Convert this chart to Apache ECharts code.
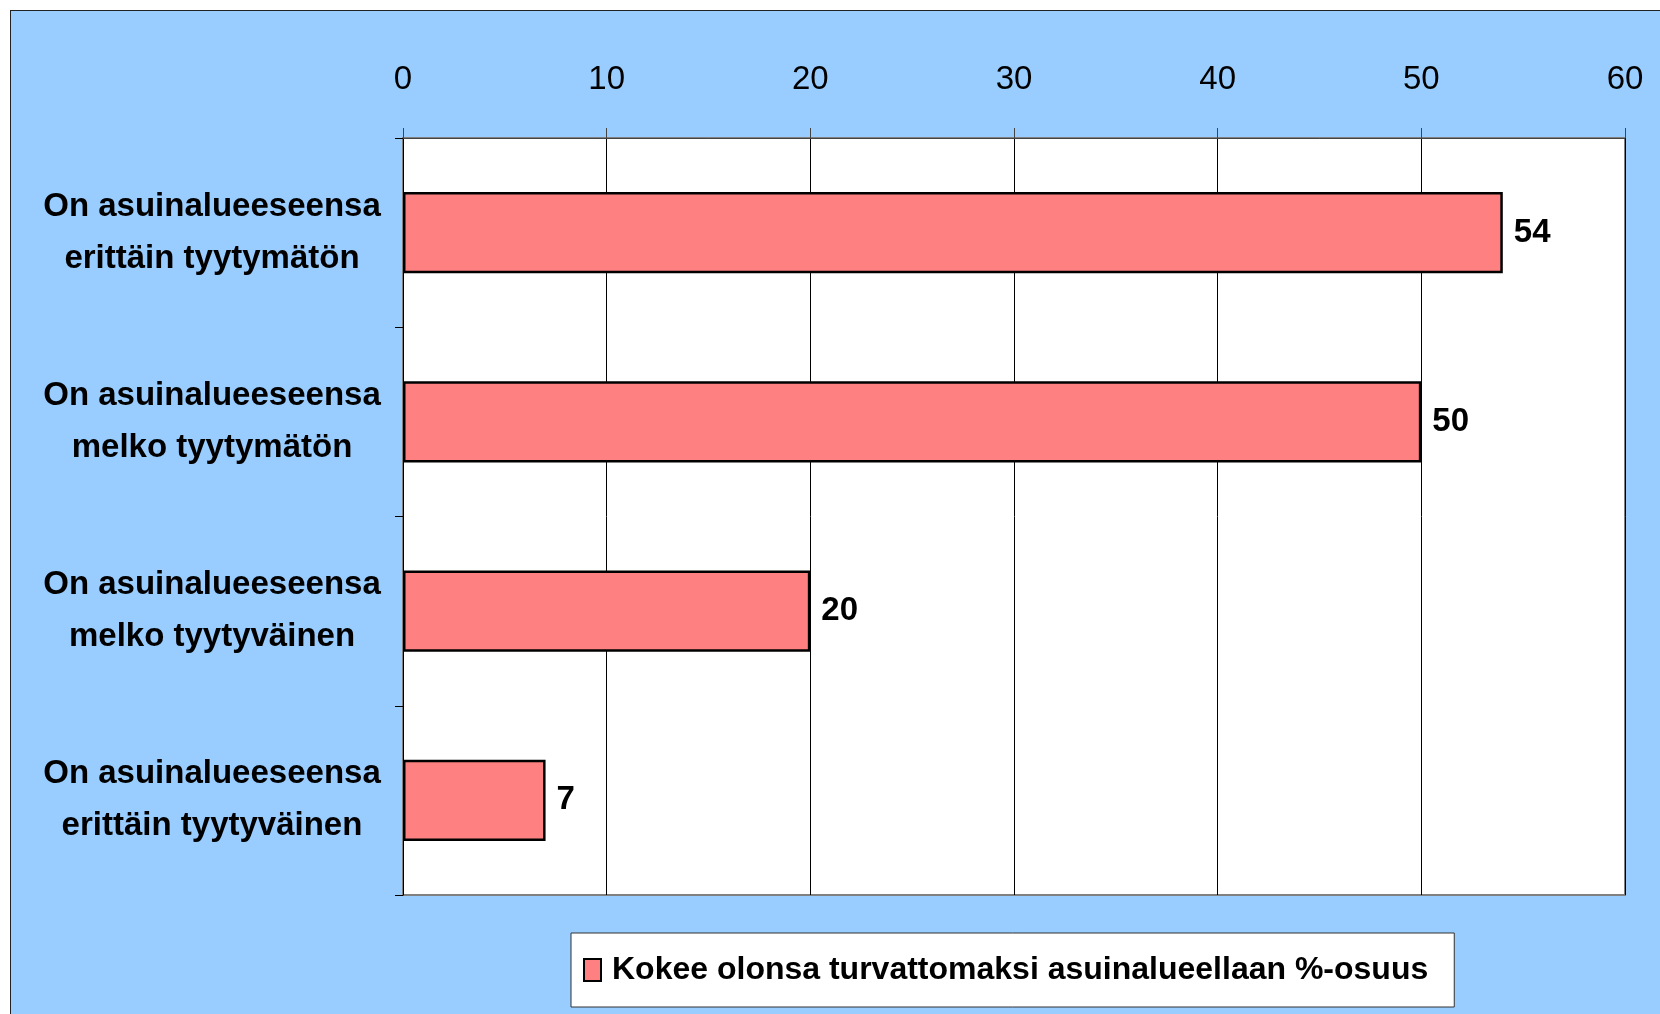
<!DOCTYPE html>
<html>
<head>
<meta charset="utf-8">
<script src="https://cdn.jsdelivr.net/npm/echarts@6/dist/echarts.min.js"></script>
<style>
  body { margin: 0; background: #fff; }
  #bg { position: absolute; left: 10px; top: 10px; width: 1660px; height: 1014px; background: #99ccff; border: 1px solid #222; }
  #chart { position: absolute; left: 0; top: 0; width: 1660px; height: 1014px; }
</style>
</head>
<body>
<div id="bg"></div>
<div id="chart"></div>
<script>
// kategoriat ylhäältä alas
var categories = [
  "On asuinalueeseensa\nerittäin tyytymätön",
  "On asuinalueeseensa\nmelko tyytymätön",
  "On asuinalueeseensa\nmelko tyytyväinen",
  "On asuinalueeseensa\nerittäin tyytyväinen"
];
var values = [54, 50, 20, 7];
var seriesName = "Kokee olonsa turvattomaksi asuinalueellaan %-osuus";
var axisMin = 0, axisMax = 60, axisStep = 10;

var font = "'Liberation Sans Narrow', 'Liberation Sans', Arial, sans-serif";

var myChart = echarts.init(document.getElementById("chart"));
myChart.setOption({
  backgroundColor: "transparent",
  textStyle: { fontFamily: font },
  grid: {
    left: 403,
    right: 35,
    top: 138,
    bottom: 119,
    show: true,
    backgroundColor: "#fff",
    borderColor: "#808080",
    borderWidth: 2
  },
  legend: {
    left: 571,
    top: 933,
    padding: [21, 26, 21, 12],
    backgroundColor: "#fff",
    borderColor: "#333",
    borderWidth: 1,
    itemWidth: 17,
    itemHeight: 22,
    itemGap: 8,
    icon: "rect",
    itemStyle: { borderColor: "#000", borderWidth: 2 },
    textStyle: { fontFamily: font, fontSize: 32, fontWeight: "bold", color: "#000", padding: [0, 0, 0, 6] },
    data: [seriesName]
  },
  xAxis: {
    type: "value",
    position: "top",
    min: axisMin,
    max: axisMax,
    interval: axisStep,
    axisLine: { show: true, lineStyle: { color: "#444", width: 1 } },
    axisTick: { show: true, length: 10, lineStyle: { color: "#444" } },
    axisLabel: { fontFamily: font, fontSize: 33, color: "#000", margin: 42 },
    splitLine: { show: true, lineStyle: { color: "#000", width: 1 } }
  },
  yAxis: {
    type: "category",
    data: categories,
    inverse: true,
    axisLine: { show: true, lineStyle: { color: "#000", width: 1 } },
    axisTick: { show: true, length: 8, lineStyle: { color: "#000" } },
    axisLabel: {
      fontFamily: font,
      fontSize: 33,
      fontWeight: "bold",
      color: "#000",
      align: "center",
      margin: 191,
      lineHeight: 52
    }
  },
  series: [
    {
      name: seriesName,
      type: "bar",
      data: values,
      barWidth: "43%",
      itemStyle: { color: "#ff8080", borderColor: "#000", borderWidth: 2.5 },
      label: {
        show: true,
        position: "right",
        distance: 11,
        fontFamily: font,
        fontSize: 33,
        fontWeight: "bold",
        color: "#000"
      }
    }
  ]
});
</script>
</body>
</html>
